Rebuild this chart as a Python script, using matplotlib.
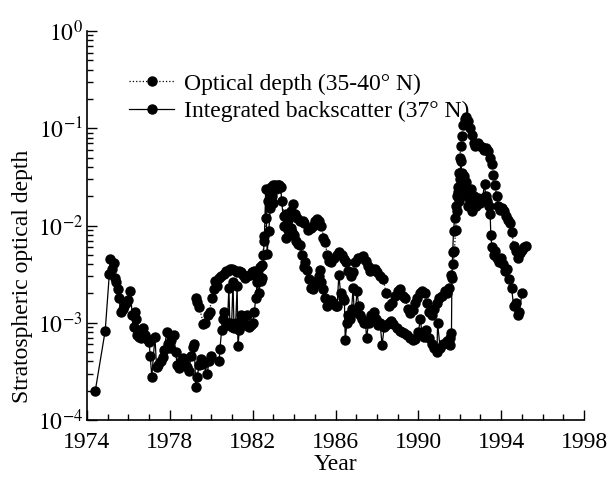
import numpy as np
import matplotlib
matplotlib.use("Agg")
import matplotlib.pyplot as plt
import matplotlib.ticker as mtick

plt.rcParams['font.family'] = ['Liberation Serif', 'DejaVu Serif']
plt.rcParams['mathtext.fontset'] = 'stix'

# Optical depth (35-40 N), dotted series
od_year = [1979.25, 1979.33, 1979.42, 1979.62, 1979.72, 1979.82, 1979.92, 1980.02, 1980.12, 1980.2,
           1980.3, 1980.38, 1980.47, 1980.6, 1980.7, 1980.8, 1980.92, 1981.02, 1981.12, 1981.22,
           1981.32, 1981.42, 1981.55, 1981.65, 1981.75, 1981.85, 1981.95, 1982.05, 1982.15, 1982.25,
           1982.35, 1982.45, 1982.55, 1982.65, 1982.72, 1982.8, 1982.9, 1983.0, 1983.1, 1983.2,
           1983.3, 1983.42, 1983.5, 1983.6, 1983.72, 1983.85, 1983.96, 1984.05, 1984.15, 1984.3,
           1984.42, 1984.5, 1984.65, 1984.8, 1984.92, 1985.02, 1985.12, 1985.22, 1985.32, 1985.42,
           1985.5, 1985.6, 1985.7, 1985.8, 1985.95, 1986.05, 1986.18, 1986.3, 1986.4, 1986.5,
           1986.62, 1986.75, 1986.85, 1986.95, 1987.08, 1987.2, 1987.32, 1987.45, 1987.55, 1987.65,
           1987.78, 1987.9, 1988.02, 1988.15, 1988.3, 1988.45, 1988.6, 1988.72, 1988.85, 1989.0,
           1989.12, 1989.25, 1989.35, 1989.5, 1989.6, 1989.72, 1989.85, 1989.95, 1990.08, 1990.2,
           1990.32, 1990.42, 1990.52, 1990.65, 1990.78, 1990.9, 1991.02, 1991.15, 1991.28, 1991.4,
           1991.5, 1991.6, 1991.68, 1991.74, 1991.8, 1991.85, 1991.9, 1991.95, 1992.0, 1992.05,
           1992.1, 1992.18, 1992.25, 1992.32, 1992.4, 1992.5, 1992.58, 1992.67, 1992.76, 1992.86,
           1992.96, 1993.06, 1993.16, 1993.26, 1993.36, 1993.46, 1993.55, 1993.62, 1993.7, 1993.78,
           1993.87, 1993.95, 1994.05, 1994.15, 1994.25, 1994.35, 1994.43, 1994.52, 1994.6, 1994.7,
           1994.8, 1994.9, 1995.0, 1995.1, 1995.2]
od_val = [1.8e-3, 1.65e-3, 1.45e-3, 9.8e-4, 1.0e-3, 1.2e-3, 1.3e-3, 1.8e-3, 2.2e-3, 2.7e-3,
          2.4e-3, 2.9e-3, 3.0e-3, 3.2e-3, 3.4e-3, 3.4e-3, 3.6e-3, 3.6e-3, 3.5e-3, 3.3e-3,
          3.4e-3, 3.3e-3, 3.1e-3, 2.9e-3, 3.0e-3, 3.1e-3, 3.3e-3, 3.4e-3, 3.0e-3, 3.2e-3,
          3.7e-3, 3.9e-3, 7.0e-3, 1.2e-2, 1.8e-2, 2.2e-2, 2.5e-2, 2.6e-2, 2.55e-2, 2.6e-2,
          2.5e-2, 1.8e-2, 1.25e-2, 1.3e-2, 1.15e-2, 1.4e-2, 1.66e-2, 1.3e-2, 1.2e-2, 1.1e-2,
          1.1e-2, 1.05e-2, 9.0e-3, 9.5e-3, 1.0e-2, 1.1e-2, 1.16e-2, 1.1e-2, 1.0e-2, 7.5e-3,
          6.8e-3, 5.0e-3, 4.3e-3, 4.2e-3, 4.6e-3, 5.0e-3, 5.4e-3, 5.0e-3, 4.5e-3, 4.2e-3,
          3.4e-3, 3.0e-3, 3.3e-3, 4.2e-3, 4.6e-3, 4.6e-3, 4.8e-3, 4.3e-3, 3.8e-3, 3.4e-3,
          3.6e-3, 3.6e-3, 3.3e-3, 3.0e-3, 2.8e-3, 2.0e-3, 1.5e-3, 1.6e-3, 1.9e-3, 2.1e-3,
          2.2e-3, 1.9e-3, 1.8e-3, 1.4e-3, 1.25e-3, 1.35e-3, 1.6e-3, 1.8e-3, 2.0e-3, 2.1e-3,
          2.0e-3, 1.6e-3, 1.3e-3, 1.2e-3, 1.4e-3, 1.6e-3, 1.8e-3, 1.9e-3, 2.1e-3, 2.0e-3,
          2.3e-3, 3.1e-3, 4.0e-3, 5.5e-3, 9.0e-3, 1.4e-2, 2.2e-2, 3.5e-2, 5.0e-2, 6.5e-2,
          8.4e-2, 0.107, 0.125, 0.13, 0.12, 0.10, 0.085, 0.07, 0.066, 0.07,
          0.066, 0.064, 0.06, 0.062, 0.059, 0.05, 0.043, 0.033, 0.026, 0.02,
          0.016, 0.0146, 0.015, 0.014, 0.0125, 0.0115, 0.0107, 0.0085, 0.0061, 0.0055,
          0.0046, 0.0052, 0.0056, 0.006, 0.0062]

# Integrated backscatter (37 N), solid series
ib_year = [1974.4, 1974.88, 1975.08, 1975.13, 1975.22, 1975.28, 1975.35, 1975.42, 1975.48, 1975.55,
           1975.62, 1975.72, 1975.8, 1975.9, 1976.0, 1976.1, 1976.18, 1976.25, 1976.32, 1976.38,
           1976.42, 1976.52, 1976.62, 1976.72, 1976.8, 1976.92, 1977.0, 1977.05, 1977.13, 1977.28,
           1977.36, 1977.45, 1977.55, 1977.65, 1977.72, 1977.85, 1977.92, 1978.0, 1978.08, 1978.2,
           1978.28, 1978.35, 1978.45, 1978.55, 1978.65, 1978.75, 1978.85, 1978.92, 1979.02, 1979.12,
           1979.18, 1979.25, 1979.32, 1979.42, 1979.5, 1979.62, 1979.8, 1979.9, 1979.97, 1980.38,
           1980.42, 1980.5, 1980.55, 1980.62, 1980.7, 1980.78, 1980.85, 1980.9, 1980.98, 1981.05,
           1981.1, 1981.18, 1981.25, 1981.29, 1981.36, 1981.45, 1981.55, 1981.65, 1981.75, 1981.82,
           1981.92, 1982.0, 1982.08, 1982.15, 1982.22, 1982.3, 1982.38, 1982.45, 1982.52, 1982.57,
           1982.63, 1982.7, 1982.78, 1982.85, 1982.92, 1983.0, 1983.08, 1983.15, 1983.25, 1983.35,
           1983.5, 1983.58, 1983.62, 1983.7, 1983.78, 1983.85, 1983.92, 1984.0, 1984.1, 1984.2,
           1984.3, 1984.38, 1984.47, 1984.55, 1984.62, 1984.7, 1984.8, 1984.9, 1985.0, 1985.1,
           1985.2, 1985.27, 1985.32, 1985.4, 1985.5, 1985.6, 1985.7, 1985.8, 1985.9, 1986.0,
           1986.08, 1986.16, 1986.25, 1986.35, 1986.43, 1986.47, 1986.55, 1986.62, 1986.7, 1986.78,
           1986.85, 1986.9, 1986.96, 1987.04, 1987.12, 1987.2, 1987.3, 1987.4, 1987.45, 1987.5,
           1987.6, 1987.7, 1987.8, 1987.88, 1987.95, 1988.05, 1988.15, 1988.25, 1988.35, 1988.45,
           1988.57, 1988.68, 1988.8, 1988.95, 1989.1, 1989.2, 1989.3, 1989.45, 1989.6, 1989.75,
           1989.85, 1990.0, 1990.1, 1990.18, 1990.26, 1990.35, 1990.5, 1990.65, 1990.78, 1990.9,
           1990.93, 1991.05, 1991.2, 1991.4, 1991.52, 1991.55, 1991.6, 1991.62, 1991.66, 1991.7,
           1991.75, 1991.8, 1991.85, 1991.9, 1991.95, 1992.0, 1992.05, 1992.1, 1992.15, 1992.2,
           1992.25, 1992.3, 1992.35, 1992.4, 1992.45, 1992.5, 1992.55, 1992.6, 1992.65, 1992.7,
           1992.8, 1992.9, 1993.0, 1993.1, 1993.2, 1993.25, 1993.3, 1993.4, 1993.47, 1993.5,
           1993.55, 1993.63, 1993.7, 1993.8, 1993.9, 1994.0, 1994.1, 1994.2, 1994.3, 1994.4,
           1994.5, 1994.6, 1994.7, 1994.8, 1994.88, 1995.0]
ib_val = [2.0e-4, 8.3e-4, 3.2e-3, 4.5e-3, 3.6e-3, 4.1e-3, 2.9e-3, 2.6e-3, 2.2e-3, 1.8e-3,
          1.3e-3, 1.4e-3, 1.5e-3, 1.6e-3, 1.7e-3, 2.1e-3, 1.2e-3, 9.0e-4, 1.3e-3, 1.1e-3,
          7.5e-4, 7.2e-4, 7.0e-4, 8.8e-4, 7.5e-4, 6.8e-4, 6.3e-4, 4.6e-4, 2.8e-4, 7.2e-4,
          3.5e-4, 3.7e-4, 4.0e-4, 4.4e-4, 5.2e-4, 8.0e-4, 6.0e-4, 5.5e-4, 6.6e-4, 7.5e-4,
          5.0e-4, 3.7e-4, 3.4e-4, 4.0e-4, 4.3e-4, 3.8e-4, 3.5e-4, 3.2e-4, 4.6e-4, 5.6e-4,
          6.0e-4, 2.2e-4, 2.8e-4, 3.7e-4, 4.2e-4, 3.8e-4, 3.0e-4, 4.0e-4, 4.6e-4, 4.0e-4,
          5.4e-4, 8.5e-4, 1.1e-3, 1.3e-3, 1.0e-3, 9.5e-4, 2.3e-3, 1.0e-3, 9.0e-4, 2.6e-3,
          8.8e-4, 1.0e-3, 2.4e-3, 5.7e-4, 8.5e-4, 1.2e-3, 1.0e-3, 9.5e-4, 1.2e-3, 9.1e-4,
          9.5e-4, 1.0e-3, 1.3e-3, 1.8e-3, 2.6e-3, 2.0e-3, 2.7e-3, 2.9e-3, 5.0e-3, 7.8e-3,
          2.4e-2, 5.1e-3, 8.8e-3, 1.5e-2, 2.0e-2, 1.7e-2, 2.6e-2, 2.4e-2, 2.6e-2, 2.5e-2,
          1.0e-2, 1.25e-2, 7.5e-3, 9.0e-3, 8.0e-3, 9.5e-3, 8.5e-3, 8.0e-3, 7.0e-3, 6.5e-3,
          6.3e-3, 5.0e-3, 3.7e-3, 4.2e-3, 3.5e-3, 2.8e-3, 2.3e-3, 2.2e-3, 2.5e-3, 2.7e-3,
          3.0e-3, 3.5e-3, 2.6e-3, 2.2e-3, 1.8e-3, 1.5e-3, 1.6e-3, 1.7e-3, 1.6e-3, 1.5e-3,
          1.5e-3, 3.1e-3, 2.0e-3, 1.8e-3, 1.7e-3, 6.6e-4, 1.0e-3, 1.2e-3, 1.1e-3, 1.4e-3,
          2.3e-3, 1.3e-3, 1.3e-3, 2.1e-3, 1.5e-3, 1.2e-3, 1.1e-3, 1.0e-3, 1.0e-3, 7.0e-4,
          1.0e-3, 1.2e-3, 1.1e-3, 1.3e-3, 1.1e-3, 9.5e-4, 1.0e-3, 5.9e-4, 9.0e-4, 9.5e-4,
          1.0e-3, 1.05e-3, 9.7e-4, 8.8e-4, 8.3e-4, 8.0e-4, 7.8e-4, 7.5e-4, 7.0e-4, 6.7e-4,
          6.8e-4, 8.0e-4, 1.1e-3, 7.5e-4, 7.2e-4, 8.5e-4, 7.0e-4, 6.0e-4, 5.5e-4, 5.0e-4,
          1.0e-3, 5.5e-4, 6.0e-4, 6.5e-4, 7.0e-4, 5.9e-4, 7.8e-4, 2.9e-3, 5.4e-3, 8.8e-3,
          1.2e-2, 1.6e-2, 2.0e-2, 2.5e-2, 1.8e-2, 3.0e-2, 4.6e-2, 3.5e-2, 2.5e-2, 3.2e-2,
          2.2e-2, 2.8e-2, 2.0e-2, 1.6e-2, 2.2e-2, 1.8e-2, 2.4e-2, 1.4e-2, 1.8e-2, 2.0e-2,
          1.6e-2, 1.9e-2, 1.7e-2, 1.9e-2, 2.7e-2, 2.0e-2, 1.8e-2, 1.6e-2, 1.3e-2, 8.0e-3,
          6.0e-3, 5.0e-3, 5.5e-3, 4.6e-3, 4.2e-3, 4.6e-3, 4.0e-3, 3.4e-3, 3.6e-3, 2.8e-3,
          2.3e-3, 1.5e-3, 1.6e-3, 1.2e-3, 1.3e-3, 2.0e-3]

year_ticks = [1974, 1978, 1982, 1986, 1990, 1994, 1998]

fig = plt.figure(figsize=(6.1, 4.78), dpi=100)
ax = fig.add_axes([87/610, 1 - 420/478, 497/610, 389/478])

ax.plot(od_year, od_val, linestyle=':', linewidth=0.9, color='k',
        marker='o', markersize=6.5, label='Optical depth (35-40° N)')
ax.plot(ib_year, ib_val, linestyle='-', linewidth=0.9, color='k',
        marker='o', markersize=6.5, label='Integrated backscatter (37° N)')

ax.set_yscale('log')
ax.set_xlim(1974, 1998)
ax.set_ylim(1e-4, 1)

ax.xaxis.set_major_locator(mtick.FixedLocator(year_ticks))
ax.xaxis.set_minor_locator(mtick.MultipleLocator(1))
ax.yaxis.set_major_locator(mtick.LogLocator(base=10))
ax.yaxis.set_minor_locator(mtick.LogLocator(base=10, subs=np.arange(2, 10)))
ax.yaxis.set_minor_formatter(mtick.NullFormatter())
ax.yaxis.set_major_formatter(mtick.FuncFormatter(lambda v, p: r'$10^{%d}$' % round(np.log10(v))))

ax.tick_params(which='both', direction='in', width=1)
ax.tick_params(which='major', length=7)
ax.tick_params(which='minor', length=4)
ax.tick_params(axis='x', pad=9, labelsize=17)
ax.tick_params(axis='y', pad=3, labelsize=17)

ax.spines['top'].set_visible(False)
ax.spines['right'].set_visible(False)
ax.spines['left'].set_linewidth(1.2)
ax.spines['bottom'].set_linewidth(1.2)

ax.set_xlabel('Year', fontsize=17)
ax.xaxis.label.set_va('top')
ax.xaxis.set_label_coords(0.5, -0.087)
ax.set_ylabel('Stratospheric optical depth', fontsize=17)
ax.yaxis.label.set_va('center')
ax.yaxis.set_label_coords(-0.13, 0.37)

ax.legend(loc='upper left', bbox_to_anchor=(0.085, 0.892), frameon=False,
          fontsize=17, handlelength=1.9, handletextpad=0.4, labelspacing=0.25,
          borderpad=0, borderaxespad=0)

fig.savefig('out.png', dpi=100)
